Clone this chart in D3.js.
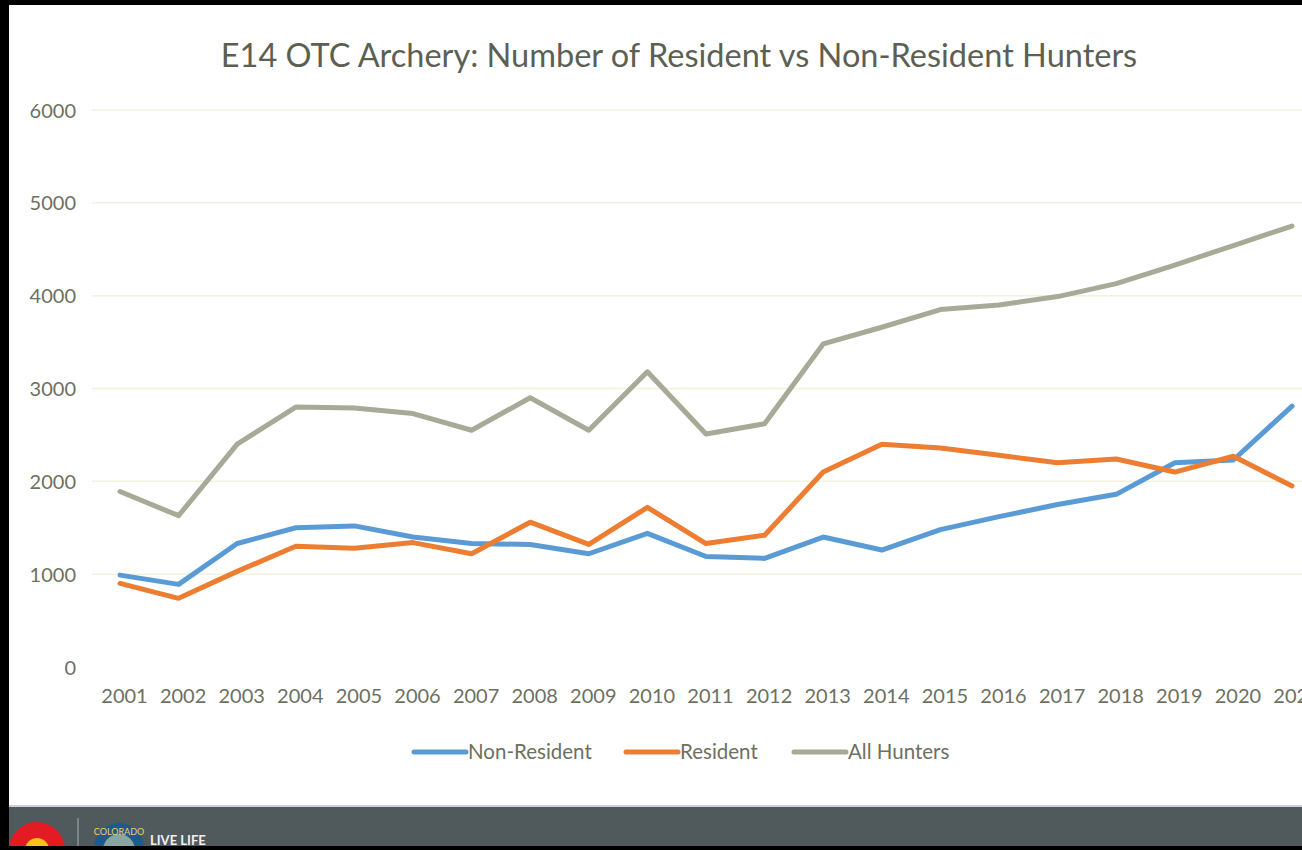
<!DOCTYPE html>
<html><head><meta charset="utf-8">
<script src="https://cdn.jsdelivr.net/npm/d3@7"></script>
<style>
html,body{margin:0;padding:0;background:#000;}
svg{display:block;}
</style></head>
<body>
<svg id="chart" width="1302" height="850"></svg>
<script>
const years = ["2001","2002","2003","2004","2005","2006","2007","2008","2009","2010","2011","2012","2013","2014","2015","2016","2017","2018","2019","2020","2021"];
const nonResident = [990,890,1330,1500,1520,1400,1330,1320,1220,1440,1190,1170,1400,1260,1480,1620,1750,1860,2200,2230,2810];
const resident = [900,740,1030,1300,1280,1340,1220,1560,1320,1720,1330,1420,2100,2400,2360,2280,2200,2240,2100,2270,1950];
const allHunters = [1890,1630,2400,2800,2790,2730,2550,2900,2550,3180,2510,2620,3480,3660,3850,3900,3990,4130,4330,4540,4750];
const yTicks = [0,1000,2000,3000,4000,5000,6000];
const seriesNames = ["Non-Resident","Resident","All Hunters"];
const seriesColors = ["#5b9bd5","#ed7d31","#a8aa97"];

const svg = d3.select("#chart");
const font = "Lato, 'Open Sans', sans-serif";
const textColor = "#6d705f";

// page background / frame
svg.append("rect").attr("x",0).attr("y",0).attr("width",1302).attr("height",850).attr("fill","#000");
svg.append("rect").attr("x",9).attr("y",5).attr("width",1293).attr("height",802).attr("fill","#fff");
svg.append("rect").attr("x",9).attr("y",805).attr("width",1293).attr("height",2).attr("fill","#c9d3d8");
svg.append("rect").attr("x",9).attr("y",807).attr("width",1293).attr("height",39).attr("fill","#505a5d");

// footer logos (simplified)
const foot = svg.append("g");
foot.append("clipPath").attr("id","fclip").append("rect").attr("x",9).attr("y",807).attr("width",1293).attr("height",39);
const fg = foot.append("g").attr("clip-path","url(#fclip)");
fg.append("circle").attr("cx",37).attr("cy",850).attr("r",28).attr("fill","#e31c23");
fg.append("circle").attr("cx",37).attr("cy",850).attr("r",12).attr("fill","#f7c21b");
fg.append("rect").attr("x",77).attr("y",818).attr("width",2).attr("height",28).attr("fill","#7b8588");
fg.append("circle").attr("cx",119).attr("cy",848).attr("r",25).attr("fill","#1f5a8a");
fg.append("circle").attr("cx",119).attr("cy",850).attr("r",16).attr("fill","#8aa6a0");
fg.append("text").attr("x",119).attr("y",835).attr("font-family",font).attr("font-size",9).attr("fill","#e9d36a").attr("text-anchor","middle").text("COLORADO");
fg.append("text").attr("x",150).attr("y",845).attr("font-family",font).attr("font-size",13).attr("font-weight","bold").attr("fill","#f0f0f0").text("LIVE LIFE");

// scales
const x = d3.scalePoint().domain(years).range([120,1292]);
const y = d3.scaleLinear().domain([0,6000]).range([667,110]);

svg.append("clipPath").attr("id","pclip").append("rect").attr("x",9).attr("y",5).attr("width",1293).attr("height",800);
const g = svg.append("g").attr("clip-path","url(#pclip)");

// gridlines
g.append("g").selectAll("line").data(yTicks.filter(d=>d>0)).join("line")
  .attr("x1",92).attr("x2",1302).attr("y1",d=>y(d)).attr("y2",d=>y(d))
  .attr("stroke","#f3f2dc").attr("stroke-width",1.5);

// y axis labels
const yAxis = d3.axisLeft(y).tickValues(yTicks).tickSize(0).tickPadding(0).tickFormat(d3.format("d"));
const ya = g.append("g").attr("transform","translate(76,0)").call(yAxis);
ya.select(".domain").remove();
ya.selectAll("text").attr("font-family",font).attr("font-size",20).attr("fill",textColor).attr("dy","0.35em");

// x axis labels
const xAxis = d3.axisBottom(x).tickSize(0).tickPadding(0);
const xa = g.append("g").attr("transform","translate(4,689)").call(xAxis);
xa.select(".domain").remove();
xa.selectAll("text").attr("font-family",font).attr("font-size",20).attr("fill",textColor).attr("dy","0.71em");

// lines
const allSeries = [nonResident, resident, allHunters];
const line = d3.line().x((d,i)=>x(years[i])).y(d=>y(d));
[2,0,1].forEach(k=>{
  g.append("path").datum(allSeries[k]).attr("d",line)
    .attr("fill","none").attr("stroke",seriesColors[k]).attr("stroke-width",5)
    .attr("stroke-linejoin","round").attr("stroke-linecap","round");
});

// title
svg.append("text").attr("x",679).attr("y",67).attr("text-anchor","middle")
  .attr("font-family",font).attr("font-size",32.5).attr("fill","#5c5f52")
  .text("E14 OTC Archery: Number of Resident vs Non-Resident Hunters");

// legend
const legendX = [414,626,794];
const leg = svg.append("g");
seriesNames.forEach((n,i)=>{
  leg.append("line").attr("x1",legendX[i]).attr("x2",legendX[i]+52).attr("y1",752).attr("y2",752)
    .attr("stroke",seriesColors[i]).attr("stroke-width",5).attr("stroke-linecap","round");
  leg.append("text").attr("x",legendX[i]+54).attr("y",752).attr("dy","0.35em")
    .attr("font-family",font).attr("font-size",20.5).attr("fill",textColor).text(n);
});
</script>
</body></html>
